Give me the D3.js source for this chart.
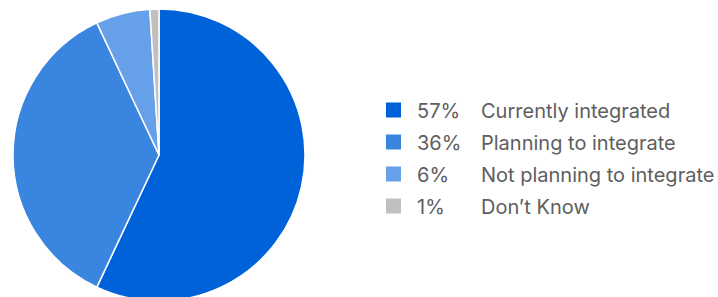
<!DOCTYPE html>
<html><head><meta charset="utf-8">
<script src="https://cdn.jsdelivr.net/npm/d3@7"></script>
<style>html,body{margin:0;padding:0;background:#fff;}svg{display:block;}</style>
</head><body>
<svg id="chart" width="718" height="297"></svg>
<script>
const categories = ["Currently integrated", "Planning to integrate", "Not planning to integrate", "Don\u2019t Know"];
const values = [57, 36, 6, 1];
const pctLabels = ["57%", "36%", "6%", "1%"];
const colors = ["#0062d9", "#3a85e0", "#66a0e8", "#c0c0c0"];

const svg = d3.select("#chart");
const cx = 159, cy = 155, r = 146;

const pie = d3.pie().sort(null).value(d => d)(values);
const arc = d3.arc().innerRadius(0).outerRadius(r);
const color = d3.scaleOrdinal().domain(categories).range(colors);

svg.append("g").attr("transform", `translate(${cx},${cy})`)
  .selectAll("path").data(pie).join("path")
  .attr("d", arc)
  .attr("fill", (d, i) => color(categories[i]))
  .attr("stroke", "#fff").attr("stroke-width", 1.5).attr("stroke-linejoin", "round");

const y = d3.scaleBand().domain(categories).range([102, 230]).paddingInner(0);
const lg = svg.append("g").attr("font-family", "Inter, 'Noto Sans', sans-serif").attr("font-size", 20).attr("fill", "#5e5e5e");
const rows = lg.selectAll("g").data(categories).join("g")
  .attr("transform", d => `translate(0,${y(d)})`);
rows.append("rect").attr("x", 386).attr("y", 0.5).attr("width", 15).attr("height", 15).attr("fill", d => color(d));
rows.append("text").attr("x", 417).attr("y", 15.5).text((d, i) => pctLabels[i]);
rows.append("text").attr("x", 481).attr("y", 15.5).text(d => d);
</script>
</body></html>
